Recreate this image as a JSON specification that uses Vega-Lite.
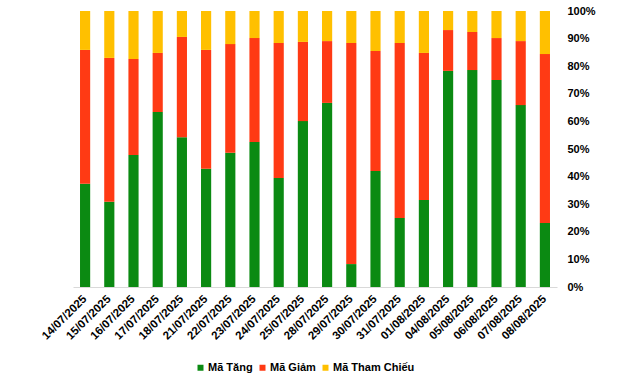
{
  "$schema": "https://vega.github.io/schema/vega-lite/v6.json",
  "width": 484,
  "height": 276,
  "autosize": "none",
  "padding": {"left": 73, "top": 11, "right": 83, "bottom": 90},
  "background": "white",
  "config": {"view": {"stroke": null}, "font": "Liberation Sans"},
  "data": {"values": [
    {"d":"14/07/2025","s":"Mã Tăng","v":37.4,"o":1},{"d":"14/07/2025","s":"Mã Giảm","v":48.5,"o":2},{"d":"14/07/2025","s":"Mã Tham Chiếu","v":14.1,"o":3},
    {"d":"15/07/2025","s":"Mã Tăng","v":30.9,"o":1},{"d":"15/07/2025","s":"Mã Giảm","v":52.1,"o":2},{"d":"15/07/2025","s":"Mã Tham Chiếu","v":17.0,"o":3},
    {"d":"16/07/2025","s":"Mã Tăng","v":47.8,"o":1},{"d":"16/07/2025","s":"Mã Giảm","v":34.8,"o":2},{"d":"16/07/2025","s":"Mã Tham Chiếu","v":17.4,"o":3},
    {"d":"17/07/2025","s":"Mã Tăng","v":63.4,"o":1},{"d":"17/07/2025","s":"Mã Giảm","v":21.4,"o":2},{"d":"17/07/2025","s":"Mã Tham Chiếu","v":15.2,"o":3},
    {"d":"18/07/2025","s":"Mã Tăng","v":54.3,"o":1},{"d":"18/07/2025","s":"Mã Giảm","v":36.3,"o":2},{"d":"18/07/2025","s":"Mã Tham Chiếu","v":9.4,"o":3},
    {"d":"21/07/2025","s":"Mã Tăng","v":42.8,"o":1},{"d":"21/07/2025","s":"Mã Giảm","v":43.1,"o":2},{"d":"21/07/2025","s":"Mã Tham Chiếu","v":14.1,"o":3},
    {"d":"22/07/2025","s":"Mã Tăng","v":48.6,"o":1},{"d":"22/07/2025","s":"Mã Giảm","v":39.4,"o":2},{"d":"22/07/2025","s":"Mã Tham Chiếu","v":12.0,"o":3},
    {"d":"23/07/2025","s":"Mã Tăng","v":52.5,"o":1},{"d":"23/07/2025","s":"Mã Giảm","v":37.7,"o":2},{"d":"23/07/2025","s":"Mã Tham Chiếu","v":9.8,"o":3},
    {"d":"24/07/2025","s":"Mã Tăng","v":39.5,"o":1},{"d":"24/07/2025","s":"Mã Giảm","v":48.9,"o":2},{"d":"24/07/2025","s":"Mã Tham Chiếu","v":11.6,"o":3},
    {"d":"25/07/2025","s":"Mã Tăng","v":60.1,"o":1},{"d":"25/07/2025","s":"Mã Giảm","v":28.7,"o":2},{"d":"25/07/2025","s":"Mã Tham Chiếu","v":11.2,"o":3},
    {"d":"28/07/2025","s":"Mã Tăng","v":66.7,"o":1},{"d":"28/07/2025","s":"Mã Giảm","v":22.4,"o":2},{"d":"28/07/2025","s":"Mã Tham Chiếu","v":10.9,"o":3},
    {"d":"29/07/2025","s":"Mã Tăng","v":8.3,"o":1},{"d":"29/07/2025","s":"Mã Giảm","v":80.1,"o":2},{"d":"29/07/2025","s":"Mã Tham Chiếu","v":11.6,"o":3},
    {"d":"30/07/2025","s":"Mã Tăng","v":42.0,"o":1},{"d":"30/07/2025","s":"Mã Giảm","v":43.5,"o":2},{"d":"30/07/2025","s":"Mã Tham Chiếu","v":14.5,"o":3},
    {"d":"31/07/2025","s":"Mã Tăng","v":25.0,"o":1},{"d":"31/07/2025","s":"Mã Giảm","v":63.4,"o":2},{"d":"31/07/2025","s":"Mã Tham Chiếu","v":11.6,"o":3},
    {"d":"01/08/2025","s":"Mã Tăng","v":31.5,"o":1},{"d":"01/08/2025","s":"Mã Giảm","v":53.3,"o":2},{"d":"01/08/2025","s":"Mã Tham Chiếu","v":15.2,"o":3},
    {"d":"04/08/2025","s":"Mã Tăng","v":78.3,"o":1},{"d":"04/08/2025","s":"Mã Giảm","v":14.8,"o":2},{"d":"04/08/2025","s":"Mã Tham Chiếu","v":6.9,"o":3},
    {"d":"05/08/2025","s":"Mã Tăng","v":78.6,"o":1},{"d":"05/08/2025","s":"Mã Giảm","v":13.8,"o":2},{"d":"05/08/2025","s":"Mã Tham Chiếu","v":7.6,"o":3},
    {"d":"06/08/2025","s":"Mã Tăng","v":75.0,"o":1},{"d":"06/08/2025","s":"Mã Giảm","v":15.2,"o":2},{"d":"06/08/2025","s":"Mã Tham Chiếu","v":9.8,"o":3},
    {"d":"07/08/2025","s":"Mã Tăng","v":65.9,"o":1},{"d":"07/08/2025","s":"Mã Giảm","v":23.2,"o":2},{"d":"07/08/2025","s":"Mã Tham Chiếu","v":10.9,"o":3},
    {"d":"08/08/2025","s":"Mã Tăng","v":23.2,"o":1},{"d":"08/08/2025","s":"Mã Giảm","v":61.2,"o":2},{"d":"08/08/2025","s":"Mã Tham Chiếu","v":15.6,"o":3}
  ]},
  "mark": {"type": "bar"},
  "encoding": {
    "x": {
      "field": "d", "type": "nominal", "sort": null,
      "scale": {"paddingInner": 0.58, "paddingOuter": 0.29},
      "axis": {
        "title": null, "labelAngle": -45, "labelAlign": "right", "labelBaseline": "middle",
        "labelFontSize": 11.5, "labelFontWeight": "bold", "labelColor": "#000000",
        "labelPadding": 10, "ticks": false, "domainColor": "#d9d9d9", "domainWidth": 1
      }
    },
    "y": {
      "field": "v", "type": "quantitative", "stack": "normalize",
      "scale": {"domain": [0, 1], "nice": false},
      "axis": {
        "title": null, "orient": "right", "format": ".0%",
        "values": [0, 0.1, 0.2, 0.3, 0.4, 0.5, 0.6, 0.7, 0.8, 0.9, 1],
        "grid": false, "domain": false, "ticks": false,
        "labelFontSize": 11, "labelFontWeight": "bold", "labelColor": "#000000", "labelPadding": 10
      }
    },
    "color": {
      "field": "s", "type": "nominal",
      "scale": {"domain": ["Mã Tăng", "Mã Giảm", "Mã Tham Chiếu"], "range": ["#0B8A12", "#FF3A14", "#FFC000"]},
      "legend": {
        "title": null, "orient": "none", "direction": "horizontal",
        "legendX": 122, "legendY": 351,
        "symbolType": "square", "symbolSize": 36, "symbolStrokeWidth": 0,
        "labelFontSize": 11, "labelFontWeight": "bold", "labelColor": "#000000",
        "labelOffset": 2, "columnPadding": 4
      }
    },
    "order": {"field": "o", "type": "quantitative", "sort": "ascending"}
  }
}
